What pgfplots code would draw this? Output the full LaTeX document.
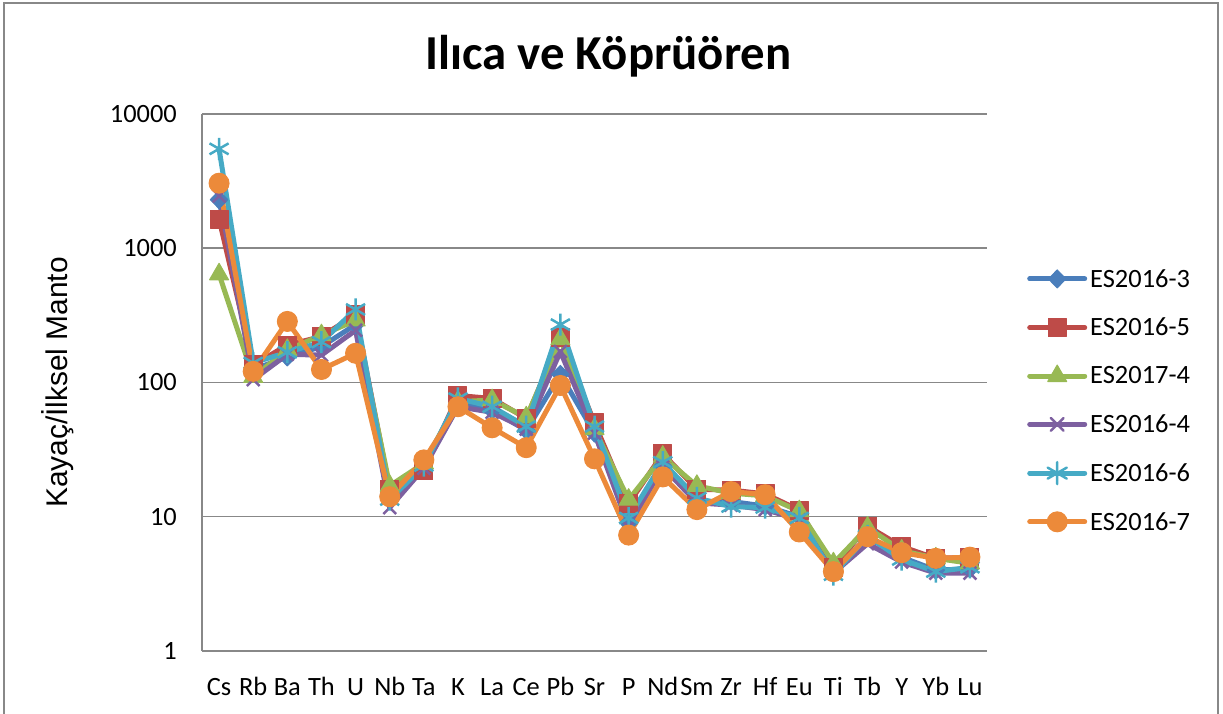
\documentclass[border=0pt]{standalone}
\usepackage{fontspec}
\setmainfont{Carlito}
\newfontfamily\arialfont{Liberation Sans}
\usepackage{pgfplots}
\pgfplotsset{compat=1.18}
\usepackage{pgfplotstable}

\definecolor{sblue}{HTML}{4A7EBB}
\definecolor{sred}{HTML}{BE4B48}
\definecolor{sgreen}{HTML}{98B954}
\definecolor{spurple}{HTML}{7D60A0}
\definecolor{steal}{HTML}{46AAC5}
\definecolor{sorange}{HTML}{EC8A3A}
\definecolor{gridgray}{HTML}{888888}

\pgfplotstableread{
x blue red green purple teal orange
0  2300 1650 640  2450 5500 3050
1  125  135  110  105  140  121
2  155  190  175  162  168  285
3  185  220  225  160  200  125
4  270  320  290  245  350  165
5  14.5 15.9 17   11.7 13.4 14.1
6  24   22   25   23   24   26.5
7  70   80   72   66   76   66
8  62   76   74   60   66   46
9  44   54   55   45   47   32.7
10 115  215  210  170  270  95
11 42   50   45   42   47   27
12 9    12.5 13.4 8.4  9.8  7.3
13 24   29.5 28   23.5 25.5 19.8
14 13   16   17   12.7 13.8 11.3
15 13   15.8 15   12.2 11.9 15.4
16 12   14.8 14.3 11.3 11.7 14.6
17 10   11.2 11   9.5  9.8  7.7
18 4.0  4.2  4.5  3.8  3.7  3.9
19 7.0  8.5  8.3  6.3  7.2  7.1
20 5.0  6.0  5.6  4.6  4.8  5.4
21 4.0  4.9  4.9  3.8  3.9  4.9
22 4.1  5.0  4.5  3.8  4.2  5.0
}\datatable

\begin{document}
\begin{tikzpicture}[x=1bp,y=1bp]
\path[use as bounding box] (0,0) rectangle (1223,714);
\draw[gridgray, line width=1.5bp] (4,-10) rectangle (1218,711);
\node[font=\fontsize{49}{54}\selectfont\bfseries, anchor=base, inner sep=0pt] at (608.5,644) {Ilıca ve Köprüören};
\begin{axis}[
  at={(202bp,63bp)}, anchor=south west,
  scale only axis, width=785bp, height=537bp,
  ymode=log, ymin=1, ymax=10000,
  xmin=-0.5, xmax=22.5,
  xtick={0,...,22},
  xticklabels={Cs,Rb,Ba,Th,U,Nb,Ta,K,La,Ce,Pb,Sr,P,Nd,Sm,Zr,Hf,Eu,Ti,Tb,Y,Yb,Lu},
  ytick={1,10,100,1000,10000},
  yticklabels={1,10,100,1000,10000},
  yminorticks=false,
  major tick length=0pt,
  axis x line*=bottom, axis y line*=left,
  axis line style={gridgray, line width=1.5bp},
  ymajorgrids, grid style={gridgray, line width=1.5bp},
  tick label style={font=\fontsize{26.5}{30}\selectfont},
  xticklabel style={anchor=north, inner sep=0pt, text height=17bp, yshift=-27bp},
  yticklabel style={anchor=east, inner sep=0pt, xshift=-25bp},
  ylabel={\arialfont Kayaç/İlksel Manto},
  ylabel style={at={(rel axis cs:0,0.5)}, anchor=center, yshift=144bp, font=\fontsize{30}{34}\selectfont},
  every axis plot/.append style={line width=5bp, line join=round},
  legend image code/.code={\draw[mark repeat=2,mark phase=2,line cap=round,#1] plot coordinates {(0bp,0bp) (27.5bp,0bp) (55bp,0bp)};},
  legend style={at={(1,0.4667)}, anchor=west, xshift=40bp, draw=none, fill=none,
    font=\fontsize{26.5}{30}\selectfont, row sep=12bp, inner sep=0pt,
    nodes={font=\fontsize{26.5}{30}\selectfont, inner xsep=3bp, inner ysep=8.7bp}},
  legend cell align=left,
]
\addplot[sblue, mark=diamond*, mark size=9bp, mark options={solid, line width=1bp, xscale=1.3}] table[x=x,y=blue] {\datatable};
\addlegendentry{ES2016-3}
\addplot[sred, mark=square*, mark size=9bp, mark options={solid, line width=1bp}] table[x=x,y=red] {\datatable};
\addlegendentry{ES2016-5}
\addplot[sgreen, mark=triangle*, mark size=11bp, mark options={solid, line width=1bp}] table[x=x,y=green] {\datatable};
\addlegendentry{ES2017-4}
\addplot[spurple, mark=x, mark size=9bp, mark options={solid, line width=2.5bp}] table[x=x,y=purple] {\datatable};
\addlegendentry{ES2016-4}
\addplot[steal, mark=asterisk, mark size=11bp, mark options={solid, line width=2.5bp}] table[x=x,y=teal] {\datatable};
\addlegendentry{ES2016-6}
\addplot[sorange, mark=*, mark size=10bp, mark options={solid, line width=1bp}] table[x=x,y=orange] {\datatable};
\addlegendentry{ES2016-7}
\end{axis}
\end{tikzpicture}
\end{document}
